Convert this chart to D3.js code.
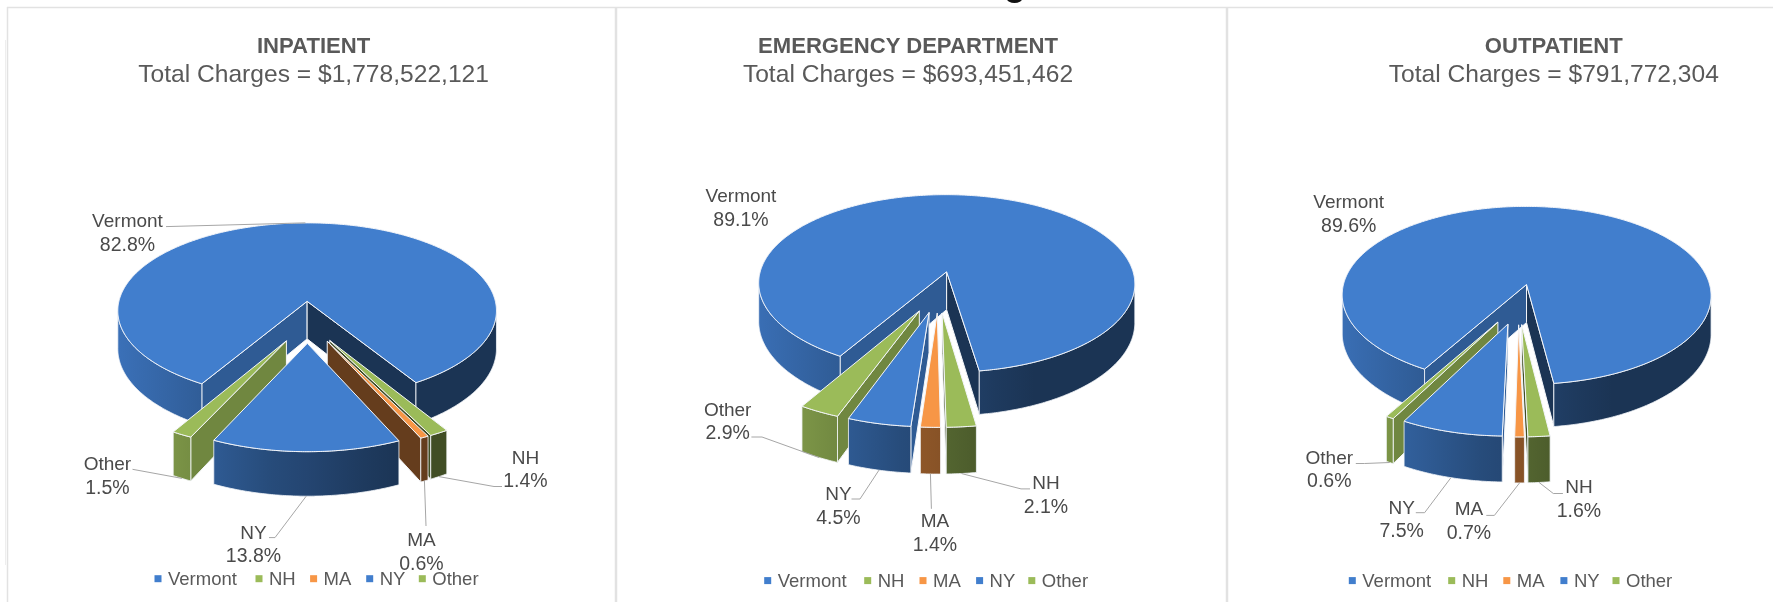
<!DOCTYPE html>
<html>
<head>
<meta charset="utf-8">
<script src="https://cdn.jsdelivr.net/npm/d3@7"></script>
<style>
  html, body { margin: 0; padding: 0; background: #fff; }
  svg { display: block; filter: blur(0.45px); }
  text { font-family: "Liberation Sans", Arial, sans-serif; }
</style>
</head>
<body>
<script>
// values
var categories = ['Vermont', 'NH', 'MA', 'NY', 'Other'];
var inpatientValues = [82.8, 1.4, 0.6, 13.8, 1.5];
var emergencyValues = [89.1, 2.1, 1.4, 4.5, 2.9];
var outpatientValues = [89.6, 1.6, 0.7, 7.5, 0.6];
var chartNames = ['INPATIENT', 'EMERGENCY DEPARTMENT', 'OUTPATIENT'];
var chartTotals = ['$1,778,522,121', '$693,451,462', '$791,772,304'];
var categoryColors = ['#417ecd', '#9bbb59', '#f79646', '#417ecd', '#9bbb59'];

var screen = { width: 1773, height: 602 };

// k is the perspective strength, explode is in pie radii
var charts = [
  {
    values: inpatientValues, start: 210.5,
    cx: 307.6, cy: 321.8, rx: 193, ry: 91.3, k: 0.11, depth: 38.5, explode: 0.23,
    titleX: 313.6,
    labelX: [127.5, 525.5, 421.5, 253.5, 107.4],
    labelY: [220.8, 457, 539.5, 532, 463.9],
    elbows: [[[166, 226.6]], [[502, 486.5], [494, 486.5]], [[426, 526]], [[269, 537.6], [275, 537.6]], [[132.5, 469.3]]],
    legendY: 578.7,
    legendX: [158, 259, 313.6, 369.7, 422.3]
  },
  {
    values: emergencyValues, start: 210.8,
    cx: 938.5, cy: 291.6, rx: 192, ry: 92.5, k: 0.135, depth: 39, explode: 0.225,
    titleX: 908,
    labelX: [741, 1046, 935, 838.4, 727.7],
    labelY: [195.9, 482.7, 520.7, 493.5, 409],
    elbows: [null, [[1030, 488.9], [1021, 488.9]], [[931.4, 508.8]], [[851.5, 499], [860, 499]], [[751.4, 437], [762, 437]]],
    legendY: 580.6,
    legendX: [767.7, 867.7, 923, 979.6, 1031.8]
  },
  {
    values: outpatientValues, start: 210.2,
    cx: 1518.5, cy: 303.9, rx: 188, ry: 92.4, k: 0.125, depth: 39, explode: 0.22,
    titleX: 1553.8,
    labelX: [1348.7, 1579, 1469, 1401.7, 1329.3],
    labelY: [201.6, 486.6, 508.8, 507, 457],
    elbows: [null, [[1562.9, 493.5], [1553.3, 493.5]], [[1486.3, 515.4], [1494.4, 515.4]], [[1415.8, 512.7], [1424.6, 512.7]], [[1355.8, 463.5], [1364.6, 463.5]]],
    legendY: 580.6,
    legendX: [1352.3, 1451.7, 1506.8, 1563.9, 1616]
  }
];

var svg = d3.select('body')
            .append('svg')
            .attr('width', screen.width)
            .attr('height', screen.height);

var defs = svg.append('defs');

svg.append('rect')
   .attr('width', screen.width)
   .attr('height', screen.height)
   .attr('fill', '#fff');

// panel frame of the original slide
var frame = svg.append('g').attr('stroke', '#e2e2e2').attr('fill', 'none');
frame.append('line').attr('x1', 7).attr('x2', 1773).attr('y1', 7.5).attr('y2', 7.5).attr('stroke-width', 1.5);
frame.append('line').attr('x1', 7.5).attr('x2', 7.5).attr('y1', 7).attr('y2', 602).attr('stroke-width', 1.5);
frame.append('line').attr('x1', 5.5).attr('x2', 5.5).attr('y1', 40).attr('y2', 565).attr('stroke', '#eeeeee');
frame.append('line').attr('x1', 616).attr('x2', 616).attr('y1', 7).attr('y2', 602).attr('stroke-width', 2.5);
frame.append('line').attr('x1', 1227).attr('x2', 1227).attr('y1', 7).attr('y2', 602).attr('stroke-width', 2.5);

// tail of the slide heading, cut off by the top of the picture
svg.append('ellipse')
   .attr('cx', 1014.5).attr('cy', -1).attr('rx', 7.5).attr('ry', 4)
   .attr('fill', '#111');

// how dark a wall is across the width of the pie, -1 left edge to 1 right edge
var shade = d3.scaleLinear()
              .domain([-1, -0.5, -0.2, 0, 0.3, 0.5, 1])
              .range([0.9, 0.72, 0.6, 0.55, 0.46, 0.41, 0.41]);

var darken = function(color, f){
  var c = d3.rgb(color);
  return d3.rgb(c.r * f, c.g * f, c.b * f).formatHex();
};

var line = d3.line();
var toPath = function(points){ return line(points) + 'Z'; };

var drawChart = function(chart, chartIndex){
  var g = svg.append('g').classed('chart', true);

  var pie = d3.pie()
              .sort(null)
              .startAngle(chart.start * Math.PI / 180)
              .endAngle(chart.start * Math.PI / 180 + 2 * Math.PI);

  var arcs = pie(chart.values);

  // disc coordinates to the screen; z is 0 on top and 1 at the bottom of the wall
  var project = function(u, v, z){
    var s = 1 / (1 - chart.k * v);
    return [chart.cx + u * chart.rx * s, chart.cy + v * chart.ry * s + z * chart.depth * s];
  };
  var camV = 1 / chart.k;

  // one wall gradient per colour
  categories.forEach(function(name, i){
    var grad = defs.append('linearGradient')
                   .attr('id', 'wall-' + chartIndex + '-' + i)
                   .attr('gradientUnits', 'userSpaceOnUse')
                   .attr('x1', chart.cx - chart.rx)
                   .attr('x2', chart.cx + chart.rx)
                   .attr('y1', 0)
                   .attr('y2', 0);
    shade.domain().forEach(function(t){
      grad.append('stop')
          .attr('offset', (t + 1) / 2)
          .attr('stop-color', darken(categoryColors[i], shade(t)));
    });
  });

  var slices = arcs.map(function(a){
    var mid = (a.startAngle + a.endAngle) / 2;
    return {
      index: a.index,
      a0: a.startAngle,
      a1: a.endAngle,
      mid: mid,
      ou: chart.explode * Math.sin(mid),
      ov: -chart.explode * Math.cos(mid)
    };
  });

  // back to front
  var order = slices.slice().sort(function(a, b){ return a.ov - b.ov; });

  order.forEach(function(d){
    var color = categoryColors[d.index];
    var sg = g.append('g').classed('slice', true);
    var rim = function(a){ return [d.ou + Math.sin(a), d.ov - Math.cos(a)]; };

    // the two straight cut faces
    [d.a0, d.a1].forEach(function(a, side){
      var sign = side === 0 ? -1 : 1;
      var nu = sign * Math.cos(a);
      var nv = sign * Math.sin(a);
      if (nu * (-d.ou) + nv * (camV - d.ov) <= 0) return;
      var r = rim(a);
      var norm = ((a * 180 / Math.PI) % 360 + 360) % 360;
      sg.append('path')
        .attr('d', toPath([project(d.ou, d.ov, 0), project(r[0], r[1], 0), project(r[0], r[1], 1), project(d.ou, d.ov, 1)]))
        .attr('fill', darken(color, norm > 180 ? 0.72 : 0.41))
        .attr('stroke', '#f4f6fa')
        .attr('stroke-width', 1)
        .attr('stroke-linejoin', 'round');
    });

    // the outer wall, only the stretches that face the viewer
    var steps = d3.range(0, Math.ceil((d.a1 - d.a0) / 0.01) + 1).map(function(i){
      return Math.min(d.a0 + i * 0.01, d.a1);
    });
    var run = [];
    var flush = function(){
      if (run.length > 1) {
        var upper = run.map(function(a){ var r = rim(a); return project(r[0], r[1], 0); });
        var lower = run.map(function(a){ var r = rim(a); return project(r[0], r[1], 1); }).reverse();
        sg.append('path')
          .attr('d', toPath(upper.concat(lower)))
          .attr('fill', 'url(#wall-' + chartIndex + '-' + d.index + ')')
          .attr('stroke', '#f4f6fa')
          .attr('stroke-width', 0.8)
          .attr('stroke-linejoin', 'round');
      }
      run = [];
    };
    steps.forEach(function(a){
      var r = rim(a);
      var facing = Math.sin(a) * (-r[0]) + (-Math.cos(a)) * (camV - r[1]) > 0;
      if (facing) { run.push(a); } else { flush(); }
    });
    flush();

    // top face
    var topPoints = [project(d.ou, d.ov, 0)].concat(steps.map(function(a){
      var r = rim(a);
      return project(r[0], r[1], 0);
    }));
    sg.append('path')
      .attr('d', toPath(topPoints))
      .attr('fill', color)
      .attr('stroke', '#f4f6fa')
      .attr('stroke-width', 1)
      .attr('stroke-linejoin', 'round');
  });

  // leader lines
  slices.forEach(function(d){
    var elbow = chart.elbows[d.index];
    if (!elbow) return;
    var u = d.ou + Math.sin(d.mid);
    var v = d.ov - Math.cos(d.mid);
    var anchor = project(u, v, Math.cos(d.mid) > 0 ? 0 : 1);
    g.append('path')
     .attr('d', line(elbow.concat([anchor])))
     .attr('fill', 'none')
     .attr('stroke', '#a6a6a6')
     .attr('stroke-width', 1);
  });

  // data labels
  var format = d3.format('.1f');
  var labels = g.selectAll('g.label')
                .data(arcs)
                .enter()
                .append('g')
                .classed('label', true);
  labels.append('text')
        .attr('x', function(d){ return chart.labelX[d.index]; })
        .attr('y', function(d){ return chart.labelY[d.index]; })
        .attr('dominant-baseline', 'central')
        .attr('text-anchor', 'middle')
        .attr('font-size', 19)
        .attr('fill', '#4a4a4a')
        .text(function(d){ return categories[d.index]; });
  labels.append('text')
        .attr('x', function(d){ return chart.labelX[d.index]; })
        .attr('y', function(d){ return chart.labelY[d.index] + 23; })
        .attr('dominant-baseline', 'central')
        .attr('text-anchor', 'middle')
        .attr('font-size', 19.5)
        .attr('fill', '#4a4a4a')
        .text(function(d){ return format(d.value) + '%'; });

  // titles
  g.append('text')
   .attr('x', chart.titleX)
   .attr('y', 45.3)
   .attr('dominant-baseline', 'central')
   .attr('text-anchor', 'middle')
   .attr('font-size', 22.1)
   .attr('font-weight', 'bold')
   .attr('fill', '#595959')
   .text(chartNames[chartIndex]);
  g.append('text')
   .attr('x', chart.titleX)
   .attr('y', 73.7)
   .attr('dominant-baseline', 'central')
   .attr('text-anchor', 'middle')
   .attr('font-size', 24.6)
   .attr('fill', '#595959')
   .text('Total Charges = ' + chartTotals[chartIndex]);

  // legend
  var legend = g.selectAll('g.legend')
                .data(categories)
                .enter()
                .append('g')
                .classed('legend', true)
                .attr('transform', function(d, i){ return 'translate(' + chart.legendX[i] + ',' + chart.legendY + ')'; });
  legend.append('rect')
        .attr('x', -3.5)
        .attr('y', -3.5)
        .attr('width', 7)
        .attr('height', 7)
        .attr('fill', function(d, i){ return categoryColors[i]; });
  legend.append('text')
        .attr('x', 10)
        .attr('dominant-baseline', 'central')
        .attr('font-size', 18.5)
        .attr('fill', '#595959')
        .text(function(d){ return d; });
};

charts.forEach(drawChart);
</script>
</body>
</html>
